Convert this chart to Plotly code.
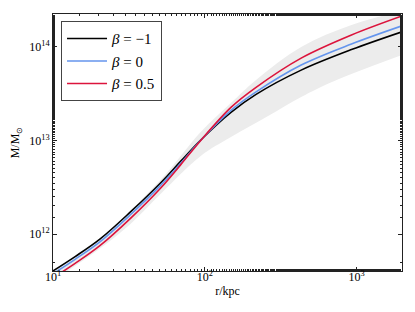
import plotly.graph_objects as go

# radii (kpc) and log10(M/Msun)
r_lines = [10, 13.99, 20.47, 32.4, 51.1, 69.3, 94.1, 148.9, 217.9, 432, 927, 1995]
logM_bm1 = [11.606, 11.759, 11.948, 12.236, 12.545, 12.775, 13.004, 13.299, 13.491, 13.750, 13.969, 14.159]
logM_b0 = [11.576, 11.730, 11.919, 12.206, 12.519, 12.754, 13.001, 13.320, 13.517, 13.804, 14.029, 14.223]
logM_b05 = [11.532, 11.686, 11.878, 12.167, 12.489, 12.738, 12.999, 13.352, 13.566, 13.878, 14.125, 14.328]

r_band_hi = [10, 20.47, 51.1, 94.1, 148.9, 217.9, 432, 927, 1995]
logM_band_hi = [11.617, 11.958, 12.577, 13.090, 13.399, 13.645, 13.997, 14.232, 14.381]
r_band_lo = [10, 20.47, 32.4, 51.1, 94.1, 148.9, 261.4, 432, 715, 1995]
logM_band_lo = [11.500, 11.847, 12.108, 12.428, 12.834, 13.036, 13.260, 13.463, 13.634, 13.911]

labels = ["<i>β</i> = −1", "<i>β</i> = 0", "<i>β</i> = 0.5"]
colors = ["#000000", "#6495ED", "#DC143C"]

x_tickvals = [10, 100, 1000]
x_ticktext = ["10<sup>1</sup>", "10<sup>2</sup>", "10<sup>3</sup>"]
y_tickvals = [1e12, 1e13, 1e14]
y_ticktext = ["10<sup>12</sup>", "10<sup>13</sup>", "10<sup>14</sup>"]

def pw(v):
    return [10 ** a for a in v]

fig = go.Figure()
fig.add_trace(go.Scatter(x=r_band_lo, y=pw(logM_band_lo), mode="lines",
                         line=dict(width=0, shape="spline"), showlegend=False, hoverinfo="skip"))
fig.add_trace(go.Scatter(x=r_band_hi, y=pw(logM_band_hi), mode="lines",
                         line=dict(width=0, shape="spline"), fill="tonexty",
                         fillcolor="rgb(236,236,236)", showlegend=False, hoverinfo="skip"))

for lab, col, vals in zip(labels, colors, [logM_bm1, logM_b0, logM_b05]):
    fig.add_trace(go.Scatter(x=r_lines, y=pw(vals), mode="lines", name=lab,
                             line=dict(color=col, width=1.6, shape="spline")))

font_family = "Liberation Serif"
fig.update_layout(
    width=407, height=304,
    margin=dict(l=45, r=13, t=6, b=41),
    paper_bgcolor="white", plot_bgcolor="white",
    font=dict(family=font_family, size=12, color="black"),
    showlegend=True,
    legend=dict(x=0.023, y=0.972, xanchor="left", yanchor="top",
                traceorder="normal",
                bordercolor="#444444", borderwidth=1, bgcolor="white",
                font=dict(family=font_family, size=15), itemwidth=40,
                tracegroupgap=0),
)
axis_common = dict(type="log", showgrid=False, zeroline=False, showline=True,
                   linecolor="#222222", linewidth=1, mirror="allticks",
                   ticks="inside", ticklen=4, tickcolor="#222222", automargin=False,
                   tickfont=dict(size=12),
                   minor=dict(ticks="inside", ticklen=2, tickcolor="#222222", showgrid=False))
fig.update_xaxes(**axis_common, range=[1, 3.3], tickvals=x_tickvals, ticktext=x_ticktext,
                 ticklabelstandoff=-5,
                 title=dict(text="r/kpc", standoff=3, font=dict(size=12)))
fig.update_yaxes(**axis_common, range=[11.605, 14.349], tickvals=y_tickvals, ticktext=y_ticktext,
                 title=dict(text="M/M<sub>⊙</sub>", standoff=14, font=dict(size=12)))

fig.write_html("out.html")
